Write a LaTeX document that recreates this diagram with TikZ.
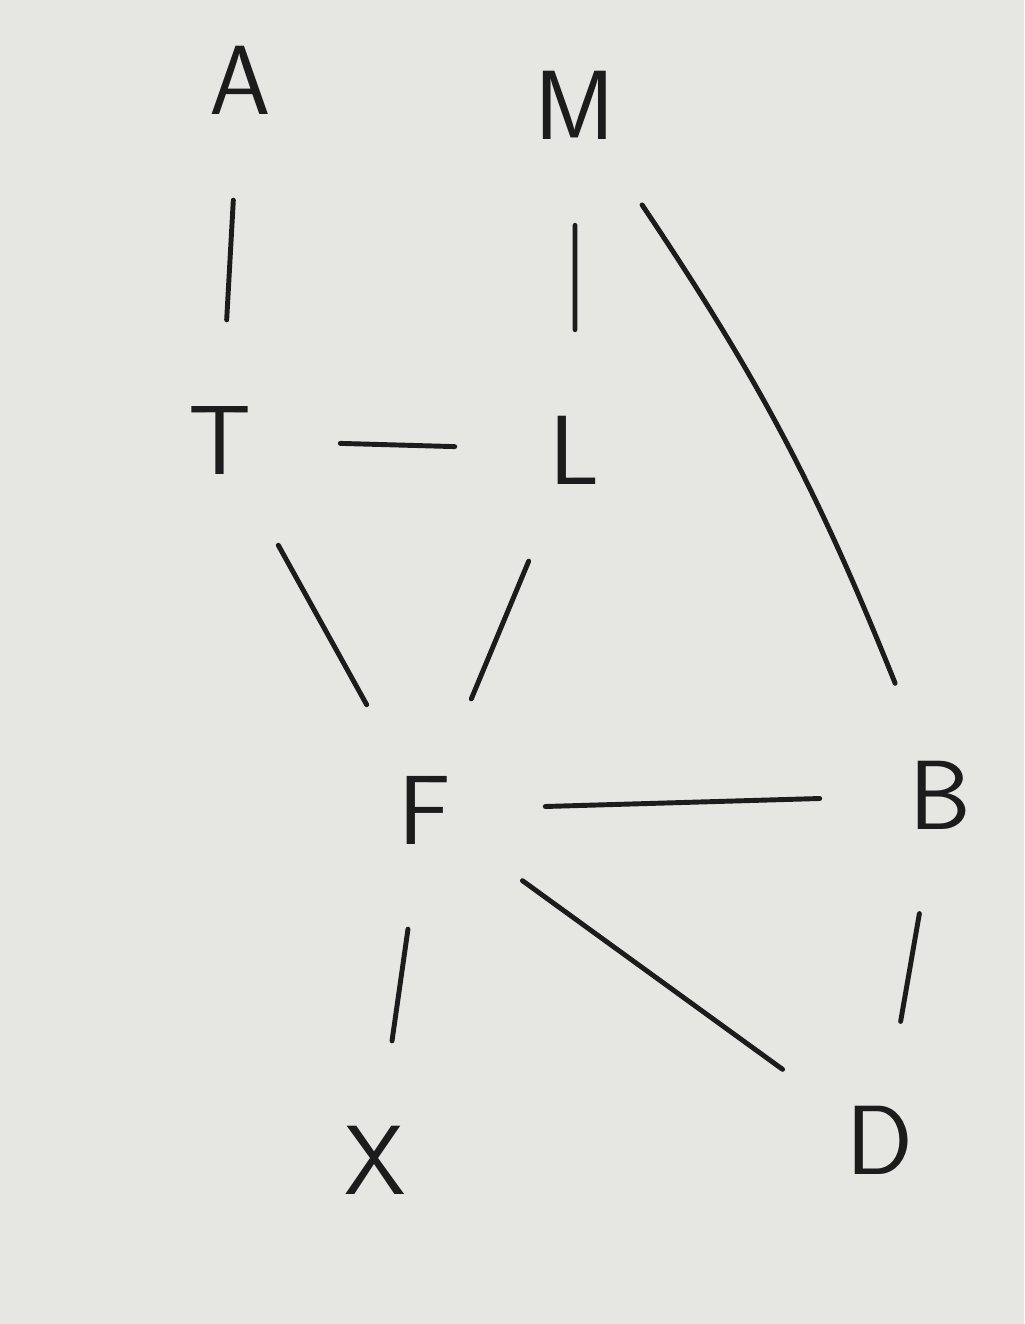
\documentclass[tikz,border=0pt]{standalone}
\usepackage{tikz}
\usetikzlibrary{ positioning, % For easy node-relative placements
               }
\definecolor{paper}{HTML}{E6E6E2}
\definecolor{ink}{HTML}{1C1C1C}

\begin{document}
\begin{tikzpicture}[
    letter/.style={circle, inner sep=0pt, minimum size=4.8cm, text=ink,
                   font=\fontsize{56}{60}\selectfont\sffamily},
    link/.style={line width=2.8pt, draw=ink, line cap=round},
  ]
  \fill[paper] (0,0) rectangle (20.48,-26.48);
  \useasboundingbox (0,0) rectangle (20.48,-26.48);

  \node[letter] (a) at (4.8,-1.6) {A};
  \node[letter] (m) at (11.5,-2.1) {M};

  \node[letter] (t) at (4.4,-8.8) {T};
  \node[letter] (l) at (11.5,-9.0) {L};

  \node[letter] (f) at (8.5,-16.2) {F};
  \node[letter] (b) at (18.8,-15.9) {B};

  \node[letter] (x) at (7.5,-23.2) {X};
  \node[letter] (d) at (17.6,-22.8) {D};

  \draw[link] (a) -- (t) -- (l) -- (m);
  \draw[link] (m) to[bend left=6] (b);
  \draw[link] (t) -- (f) -- (l);
  \draw[link] (f) -- (b) -- (d) -- (f);
  \draw[link] (f) -- (x);

\end{tikzpicture}
\end{document}
